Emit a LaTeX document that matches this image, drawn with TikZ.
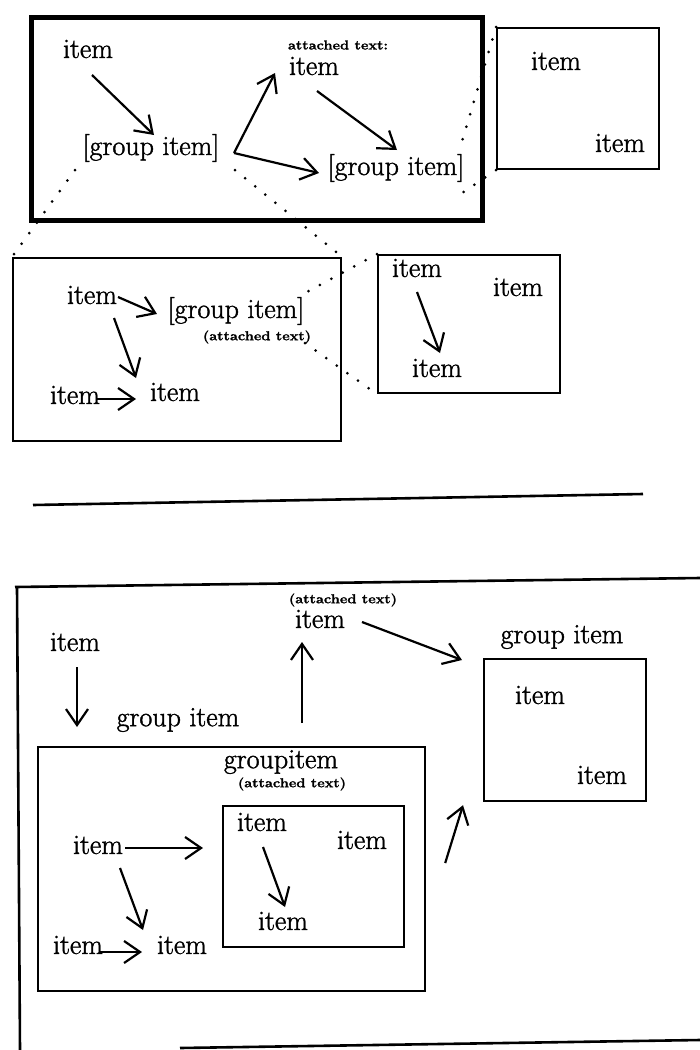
\documentclass[tikz,border=0pt]{standalone}
\usepackage{fontspec}
\setmainfont{Latin Modern Roman}[FakeBold=1.4]
\usetikzlibrary{arrows.meta}

% small wide caption text attached to items
\newcommand{\atttext}[1]{\scalebox{1.12}[1]{\fontsize{13}{13}\selectfont\bfseries #1}}

\tikzset{
  lbl/.style={inner sep=0pt, font=\fontsize{28}{30}\selectfont},
  tag/.style={inner sep=0pt},
  box/.style={draw, line width=2.2pt, inner sep=0pt, anchor=north west},
  thickbox/.style={draw, line width=4.5pt, inner sep=0pt, anchor=north west},
  arr/.style={line width=2.2pt, -{Straight Barb[length=16pt,width=22pt,line width=2.2pt]}},
  dots/.style={line width=3pt, line cap=round, dash pattern=on 0pt off 13pt},
  rule/.style={line width=2.6pt},
}

\begin{document}
\begin{tikzpicture}[x=1pt,y=-1pt]
\useasboundingbox (0,0) rectangle (700,1050);

% ---------------- upper group ----------------
\node[thickbox, minimum width=451, minimum height=203] (f1) at (29,15) {};
\node[lbl] (t_i1) at (88,49) {item};
\node[lbl] (t_g1) at (151,148) {[group item]};
\node[tag] (t_att) at (338,45) {\atttext{attached text:}};
\node[lbl] (t_i2) at (314,66) {item};
\node[lbl] (t_g2) at (396,168) {[group item]};

\draw[arr] ([shift={(4,26)}]t_i1.center) -- ([shift={(3,-13)}]t_g1.center);
\draw[arr] ([shift={(83,5)}]t_g1.center) -- ([shift={(-39,7)}]t_i2.center);
\draw[arr] ([shift={(83,5)}]t_g1.center) -- ([shift={(-77,5)}]t_g2.center);
\draw[arr] ([shift={(3,25)}]t_i2.center) -- ([shift={(1,-18)}]t_g2.center);

% expanded contents of the right group item
\node[box, minimum width=162, minimum height=141] (r1) at (496,27) {};
\node[lbl] (r_i1) at (556,61) {item};
\node[lbl] (r_i2) at (620,143) {item};
\draw[dots] (r1.north west) -- ([shift={(64,-20)}]t_g2.center);
\draw[dots] (r1.south west) -- ([shift={(66,25)}]t_g2.center);

% ---------------- middle group ----------------
\node[box, minimum width=328, minimum height=183] (m1) at (12,257) {};
\draw[dots] ([shift={(-76,22)}]t_g1.center) -- (m1.north west);
\draw[dots] ([shift={(84,22)}]t_g1.center) -- (m1.north east);

\node[lbl] (m_i1) at (92,295) {item};
\node[lbl] (m_g) at (236,311) {[group item]};
\node[tag] (m_att) at (257,337) {\atttext{(attached text)}};
\node[lbl] (m_i2) at (75,395) {item};
\node[lbl] (m_i3) at (175,392) {item};

\draw[arr] ([shift={(26,2)}]m_i1.center) -- ([shift={(-79,3)}]m_g.center);
\draw[arr] ([shift={(22,23)}]m_i1.center) -- ([shift={(-39,-14)}]m_i3.center);
\draw[arr] ([shift={(21,4)}]m_i2.center) -- ([shift={(-39,7)}]m_i3.center);

\node[box, minimum width=182, minimum height=138] (m2) at (377,254) {};
\node[lbl] (m_i4) at (417,268) {item};
\node[lbl] (m_i5) at (518,287) {item};
\node[lbl] (m_i6) at (437,368) {item};
\draw[arr] ([shift={(0,24)}]m_i4.center) -- ([shift={(3,-15)}]m_i6.center);

\draw[dots] (m2.north west) -- ([shift={(69,-18)}]m_g.center);
\draw[dots] ([shift={(69,32)}]m_g.center) -- (m2.south west);

% separator
\coordinate (sepL) at (33,505);
\coordinate (sepR) at (643,494);
\draw[rule] (sepL) -- (sepR);

% ---------------- lower diagram ----------------
\coordinate (fTL) at (15,587);
\coordinate (fTR) at (700,578);
\coordinate (fLT) at (17,587);
\coordinate (fLB) at (20,1050);
\coordinate (fBL) at (180,1048);
\coordinate (fBR) at (700,1040);
\draw[rule] (fTL) -- (fTR);
\draw[rule] (fLT) -- (fLB);
\draw[rule] (fBL) -- (fBR);

\node[lbl] (b_i1) at (75,642) {item};
\node[lbl] (b_g1) at (178,720) {group item};
\node[tag] (b_att) at (343,600) {\atttext{(attached text)}};
\node[lbl] (b_i2) at (320,619) {item};
\node[lbl] (b_g2) at (562,637) {group item};

\node[box, minimum width=162, minimum height=142] (b_r) at (483,658) {};
\node[lbl] (b_i3) at (540,695) {item};
\node[lbl] (b_i4) at (602,775) {item};

\node[box, minimum width=387, minimum height=244] (b_in) at (37,746) {};
\node[lbl] (b_g3) at (281,762) {groupitem};
\node[tag] (b_att2) at (292,784) {\atttext{(attached text)}};

\node[box, minimum width=181, minimum height=141] (b_s) at (222,805) {};
\node[lbl] (b_i5) at (262,822) {item};
\node[lbl] (b_i6) at (362,840) {item};
\node[lbl] (b_i7) at (283,921) {item};

\node[lbl] (b_i8) at (98,845) {item};
\node[lbl] (b_i9) at (78,945) {item};
\node[lbl] (b_i10) at (182,945) {item};

\draw[arr] ([shift={(2,25)}]b_i1.center) -- ([shift={(-101,7)}]b_g1.center);
\draw[arr] ([shift={(265,-23)}]b_in.north west) -- ([shift={(-18,23)}]b_i2.center);
\draw[arr] ([shift={(42,3)}]b_i2.center) -- ([shift={(-21,2)}]b_r.north west);
\draw[arr] ([shift={(19,117)}]b_in.north east) -- ([shift={(-20,3)}]b_r.south west);

\draw[arr] ([shift={(1,25)}]b_i5.center) -- ([shift={(2,-14)}]b_i7.center);
\draw[arr] ([shift={(27,3)}]b_i8.center) -- ([shift={(-19,43)}]b_s.north west);
\draw[arr] ([shift={(22,23)}]b_i8.center) -- ([shift={(-39,-15)}]b_i10.center);
\draw[arr] ([shift={(22,7)}]b_i9.center) -- ([shift={(-40,7)}]b_i10.center);
\end{tikzpicture}
\end{document}
